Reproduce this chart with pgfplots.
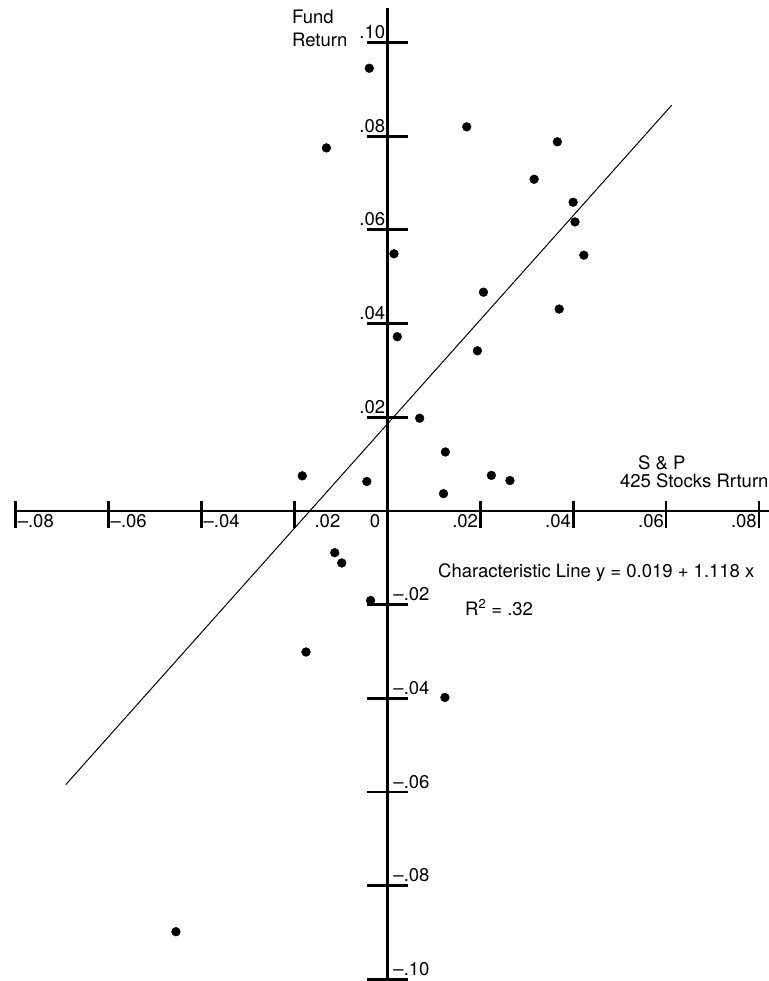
\documentclass[border=0pt]{standalone}
\usepackage{fontspec}
\setmainfont{TeX Gyre Heros}
\usepackage{pgfplots}
\pgfplotsset{compat=1.18}
\begin{document}
\fontsize{18.5bp}{22bp}\selectfont
\begin{tikzpicture}
\begin{axis}[
  width=769bp, height=981bp, scale only axis,
  xmin=-0.08336, xmax=0.08216, ymin=-0.10032, ymax=0.10907,
  hide axis, clip=false,
]
% axes
\draw[line width=2.8bp] (axis cs:-0.08,0) -- (axis cs:0.08216,0);
\draw[line width=2.8bp] (axis cs:0,0.1074) -- (axis cs:0,-0.10032);
% x ticks
\pgfplotsinvokeforeach{-0.08,-0.06,-0.04,-0.02,0.02,0.04,0.06,0.08}{
  \draw[line width=2.8bp] ([yshift=10bp]axis cs:#1,0) -- ([yshift=-17bp]axis cs:#1,0);
}
% y ticks
\pgfplotsinvokeforeach{-0.1,-0.08,-0.06,-0.04,-0.02,0.02,0.04,0.06,0.08,0.1}{
  \draw[line width=2.8bp] ([xshift=-20bp]axis cs:0,#1) -- ([xshift=21bp]axis cs:0,#1);
}
% x tick labels
\node[anchor=base west, inner sep=0pt] at (axis cs:-0.08,0) [xshift=2bp, yshift=-17bp] {\textendash.08};
\node[anchor=base west, inner sep=0pt] at (axis cs:-0.06,0) [xshift=2bp, yshift=-17bp] {\textendash.06};
\node[anchor=base west, inner sep=0pt] at (axis cs:-0.04,0) [xshift=2bp, yshift=-17bp] {\textendash.04};
\node[anchor=base west, inner sep=0pt] at (axis cs:-0.02,0) [xshift=20bp, yshift=-17bp] {.02};
\node[anchor=base east, inner sep=0pt] at (axis cs:0,0) [xshift=-7bp, yshift=-17bp] {0};
\node[anchor=base east, inner sep=0pt] at (axis cs:0.02,0) [xshift=-2bp, yshift=-17bp] {.02};
\node[anchor=base east, inner sep=0pt] at (axis cs:0.04,0) [xshift=-2bp, yshift=-17bp] {.04};
\node[anchor=base east, inner sep=0pt] at (axis cs:0.06,0) [xshift=-2bp, yshift=-17bp] {.06};
\node[anchor=base east, inner sep=0pt] at (axis cs:0.08,0) [xshift=-2bp, yshift=-17bp] {.08};
% y tick labels
\node[anchor=base east, inner sep=0pt] at (axis cs:0,0.1) [xshift=-2bp, yshift=4bp] {.10};
\node[anchor=base east, inner sep=0pt] at (axis cs:0,0.08) [xshift=-2bp, yshift=4bp] {.08};
\node[anchor=base east, inner sep=0pt] at (axis cs:0,0.06) [xshift=-2bp, yshift=4bp] {.06};
\node[anchor=base east, inner sep=0pt] at (axis cs:0,0.04) [xshift=-2bp, yshift=4bp] {.04};
\node[anchor=base east, inner sep=0pt] at (axis cs:0,0.02) [xshift=-2bp, yshift=4bp] {.02};
\node[anchor=base west, inner sep=0pt] at (axis cs:0,-0.02) [xshift=6bp, yshift=4bp] {\textendash.02};
\node[anchor=base west, inner sep=0pt] at (axis cs:0,-0.04) [xshift=6bp, yshift=4bp] {\textendash.04};
\node[anchor=base west, inner sep=0pt] at (axis cs:0,-0.06) [xshift=6bp, yshift=4bp] {\textendash.06};
\node[anchor=base west, inner sep=0pt] at (axis cs:0,-0.08) [xshift=6bp, yshift=4bp] {\textendash.08};
\node[anchor=base west, inner sep=0pt] at (axis cs:0,-0.1) [xshift=6bp, yshift=4bp] {\textendash.10};
% axis titles and annotations
\node[anchor=base west, inner sep=0pt] at (axis cs:-0.02051,0.10395) {Fund};
\node[anchor=base west, inner sep=0pt] at (axis cs:-0.02051,0.09904) {Return};
\node[anchor=base west, inner sep=0pt] at (axis cs:0.05396,0.00875) {S \& P};
\node[anchor=base west, inner sep=0pt] at (axis cs:0.05008,0.00491) {425 Stocks Rrturn};
\node[anchor=base west, inner sep=0pt] at (axis cs:0.01091,-0.0143) {Characteristic Line y = 0.019 + 1.118 x};
\node[anchor=base west, inner sep=0pt] at (axis cs:0.01672,-0.0222) {R\textsuperscript{2} = .32};
% characteristic line
\addplot[black, line width=1bp, no markers] coordinates {(-0.0692,-0.0584) (0.0612,0.0866)};
% data points
\addplot[only marks, mark=*, mark size=4.4bp, black] coordinates {
(-0.00387,0.0945) (-0.0131,0.0775) (0.0171,0.0820) (0.0366,0.0788)
(0.0316,0.0708) (0.0400,0.0659) (0.0404,0.0617) (0.0423,0.0546)
(0.00144,0.0549) (0.0207,0.0467) (0.0370,0.0431) (0.00215,0.0372)
(0.0194,0.0342) (0.00697,0.0198) (0.0125,0.0126) (0.0224,0.0076)
(0.0264,0.0065) (0.0121,0.0037) (-0.0183,0.0075) (-0.0044,0.0063)
(-0.0113,-0.0089) (-0.0098,-0.0111) (-0.0036,-0.0191) (-0.0175,-0.0301)
(0.0124,-0.0398) (-0.0455,-0.0898)
};
\end{axis}
\pgfresetboundingbox
\path (current axis.south west) rectangle (current axis.north east);
\end{tikzpicture}
\end{document}
